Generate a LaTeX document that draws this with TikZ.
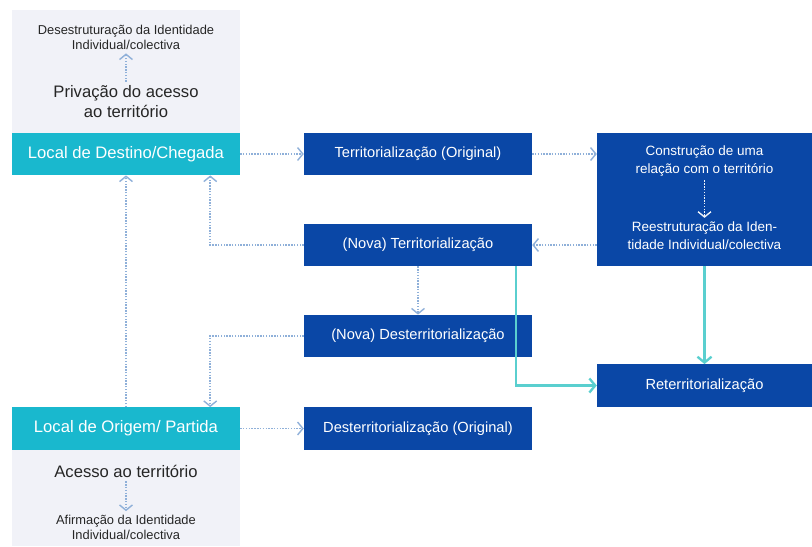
\documentclass[tikz,border=0pt]{standalone}
\usepackage{fontspec}
\setmainfont{Liberation Sans}
\usetikzlibrary{arrows.meta,positioning,calc}
\definecolor{boxblue}{HTML}{0A47A6}
\definecolor{boxcyan}{HTML}{19B8CE}
\definecolor{panelgray}{HTML}{F1F2F8}
\definecolor{dotblue}{HTML}{8FB0D9}
\definecolor{tealline}{HTML}{5ACFCF}

\begin{document}
\begin{tikzpicture}[
    x=0.03cm, y=-0.03cm,
    darkbox/.style={rectangle, fill=boxblue, text=white, inner sep=0pt, minimum width=6.84cm, minimum height=1.27cm, font=\fontsize{12.5}{15}\selectfont},
    sidebox/.style={darkbox, minimum width=6.45cm},
    placebox/.style={rectangle, fill=boxcyan, text=white, inner sep=0pt, minimum width=6.84cm, minimum height=1.27cm, font=\fontsize{14.2}{17}\selectfont},
    panel/.style={rectangle, fill=panelgray, inner sep=0pt, minimum width=6.84cm, minimum height=#1},
    small/.style={align=center, text=black!85, font=\fontsize{11}{12.8}\selectfont},
    large/.style={align=center, text=black!85, font=\fontsize{14.2}{17}\selectfont},
    inner/.style={align=center, text=white, font=\fontsize{11.5}{15.4}\selectfont},
    dotarrow/.style={-{Straight Barb[length=4.5pt, width=11pt, line width=1.2pt]}, dotblue, line width=1.6pt, dash pattern=on 1.2pt off 1.2pt},
    tealarrow/.style={-{Straight Barb[length=5pt, width=12pt]}, tealline, line width=2pt}
]
\useasboundingbox (0,0) rectangle (812,546);

% grey panels
\node[panel=3.69cm] (toppanel) at (126,71.5) {};
\node[panel=2.88cm] (botpanel) at (126,498) {};

% places
\node[placebox] (dest) at (126,154) {Local de Destino/Chegada};
\node[placebox] (orig) at (126,428.5) {Local de Origem/ Partida};

% inside the panels
\node[small] (desest) at (126,37) {Desestruturação da Identidade\\Individual/colectiva};
\node[large] (priv) at (126,102) {Privação do acesso\\ao território};
\node[large] (acesso) at (126,471) {Acesso ao território};
\node[small] (afirm) at (126,527.5) {Afirmação da Identidade\\Individual/colectiva};

% middle column
\node[darkbox] (terr) at (418,154) {Territorialização (Original)};
\node[darkbox] (nterr) at (418,245) {(Nova) Territorialização};
\node[darkbox] (ndes) at (418,336) {(Nova) Desterritorialização};
\node[darkbox] (dterr) at (418,428.5) {Desterritorialização (Original)};

% right column
\node[sidebox, minimum height=3.99cm] (constr) at (704.5,199.5) {};
\node[inner] (relacao) at (704.5,161) {Construção de uma\\relação com o território};
\node[inner] (reestr) at (704.5,236) {Reestruturação da Iden-\\tidade Individual/colectiva};
\node[sidebox] (reterr) at (704.5,385.5) {Reterritorialização};

% arrows
\draw[dotarrow] (priv.north) -- (desest.south);
\draw[dotarrow] (acesso.south) -- (afirm.north);
\draw[dotarrow, white!85!dotblue] (relacao.south) -- (reestr.north);
\draw[dotarrow] (dest.east) -- (terr.west);
\draw[dotarrow] (terr.east) -- (constr.west |- terr.east);
\draw[dotarrow] (constr.west |- nterr.east) -- (nterr.east);
\draw[dotarrow] (nterr.west) -| ($(dest.south east)+(-30,0)$);
\draw[dotarrow] (orig.north) -- (dest.south);
\draw[dotarrow] (nterr.south) -- (ndes.north);
\draw[dotarrow] (ndes.west) -| ($(orig.north east)+(-30,0)$);
\draw[dotarrow] (orig.east) -- (dterr.west);
\draw[tealarrow] ($(nterr.south east)+(-16,0)$) |- (reterr.west);
\draw[tealarrow] (constr.south) -- (reterr.north);

\end{tikzpicture}
\end{document}
